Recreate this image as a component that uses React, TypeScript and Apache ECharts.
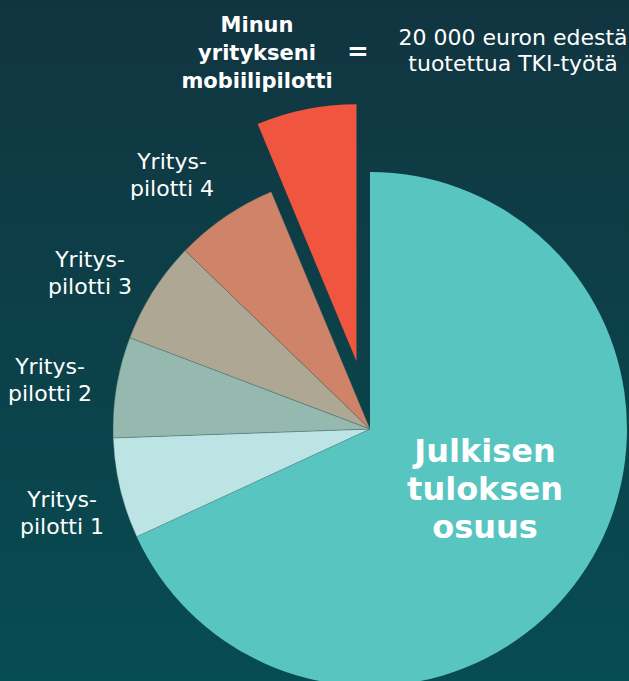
import React, { useEffect, useRef } from "react";
import * as echarts from "echarts";

const categories = [
  "Julkisen tuloksen osuus",
  "Yrityspilotti 1",
  "Yrityspilotti 2",
  "Yrityspilotti 3",
  "Yrityspilotti 4",
  "Minun yritykseni mobiilipilotti",
];
const values = [68.11, 6.33, 6.33, 6.44, 6.5, 6.28];
const colors = ["#58c5c0", "#bde4e4", "#95b9af", "#aea793", "#cf846a", "#f0563f"];
const pilotLabels = ["Yritys-\npilotti 1", "Yritys-\npilotti 2", "Yritys-\npilotti 3", "Yritys-\npilotti 4"];
const publicLabel = "Julkisen\ntuloksen\nosuus";
const headerLeft = "Minun\nyritykseni\nmobiilipilotti";
const headerRight = "20 000 euron edestä\ntuotettua TKI-työtä";

const FONT = "DejaVu Sans";

export default function App() {
  const ref = useRef<HTMLDivElement>(null);
  useEffect(() => {
    const chart = echarts.init(ref.current!, null, { renderer: "svg" });
    const pilotPos = [
      [62, 513],
      [50, 380],
      [90, 273],
      [172, 175],
    ];
    chart.setOption({
      animation: false,
      backgroundColor: new echarts.graphic.LinearGradient(0, 0, 0, 1, [
        { offset: 0, color: "#113540" },
        { offset: 1, color: "#074c52" },
      ]),
      series: [
        {
          type: "pie",
          z: 1,
          center: [370, 429],
          radius: [0, 257],
          startAngle: 90,
          clockwise: true,
          selectedMode: "single",
          selectedOffset: 69,
          label: { show: false },
          labelLine: { show: false },
          emphasis: { disabled: true },
          itemStyle: { borderWidth: 0.6, borderColor: "rgba(60,100,100,0.6)" },
          data: categories.map((c, i) => ({
            name: c,
            value: values[i],
            selected: i === categories.length - 1,
            itemStyle: { color: colors[i], borderWidth: i === 0 || i === 5 ? 0 : 0.6 },
          })),
        },
      ],
      graphic: {
        elements: [
          ...pilotLabels.map((t, i) => ({
            type: "text",
            z: 100,
            x: pilotPos[i][0],
            y: pilotPos[i][1],
            style: {
              text: t,
              fill: "#ffffff",
              font: `22px "${FONT}"`,
              lineHeight: 27,
              align: "center",
              verticalAlign: "middle",
            },
          })),
          {
            type: "text",
            z: 100,
            x: 485,
            y: 489,
            style: {
              text: publicLabel,
              fill: "#ffffff",
              font: `bold 32px "${FONT}"`,
              lineHeight: 38,
              align: "center",
              verticalAlign: "middle",
            },
          },
          {
            type: "text",
            z: 100,
            x: 257,
            y: 53,
            style: {
              text: headerLeft,
              fill: "#ffffff",
              font: `bold 21px "${FONT}"`,
              lineHeight: 28,
              align: "center",
              verticalAlign: "middle",
            },
          },
          {
            type: "text",
            z: 100,
            x: 358,
            y: 51,
            style: {
              text: "=",
              fill: "#ffffff",
              font: `bold 26px "${FONT}"`,
              align: "center",
              verticalAlign: "middle",
            },
          },
          {
            type: "text",
            z: 100,
            x: 513,
            y: 50,
            style: {
              text: headerRight,
              fill: "#ffffff",
              font: `22px "${FONT}"`,
              lineHeight: 26,
              align: "center",
              verticalAlign: "middle",
            },
          },
        ],
      },
    });
    return () => chart.dispose();
  }, []);
  return (
    <div
      ref={ref}
      style={{ position: "fixed", left: 0, top: 0, width: 629, height: 681 }}
    />
  );
}
